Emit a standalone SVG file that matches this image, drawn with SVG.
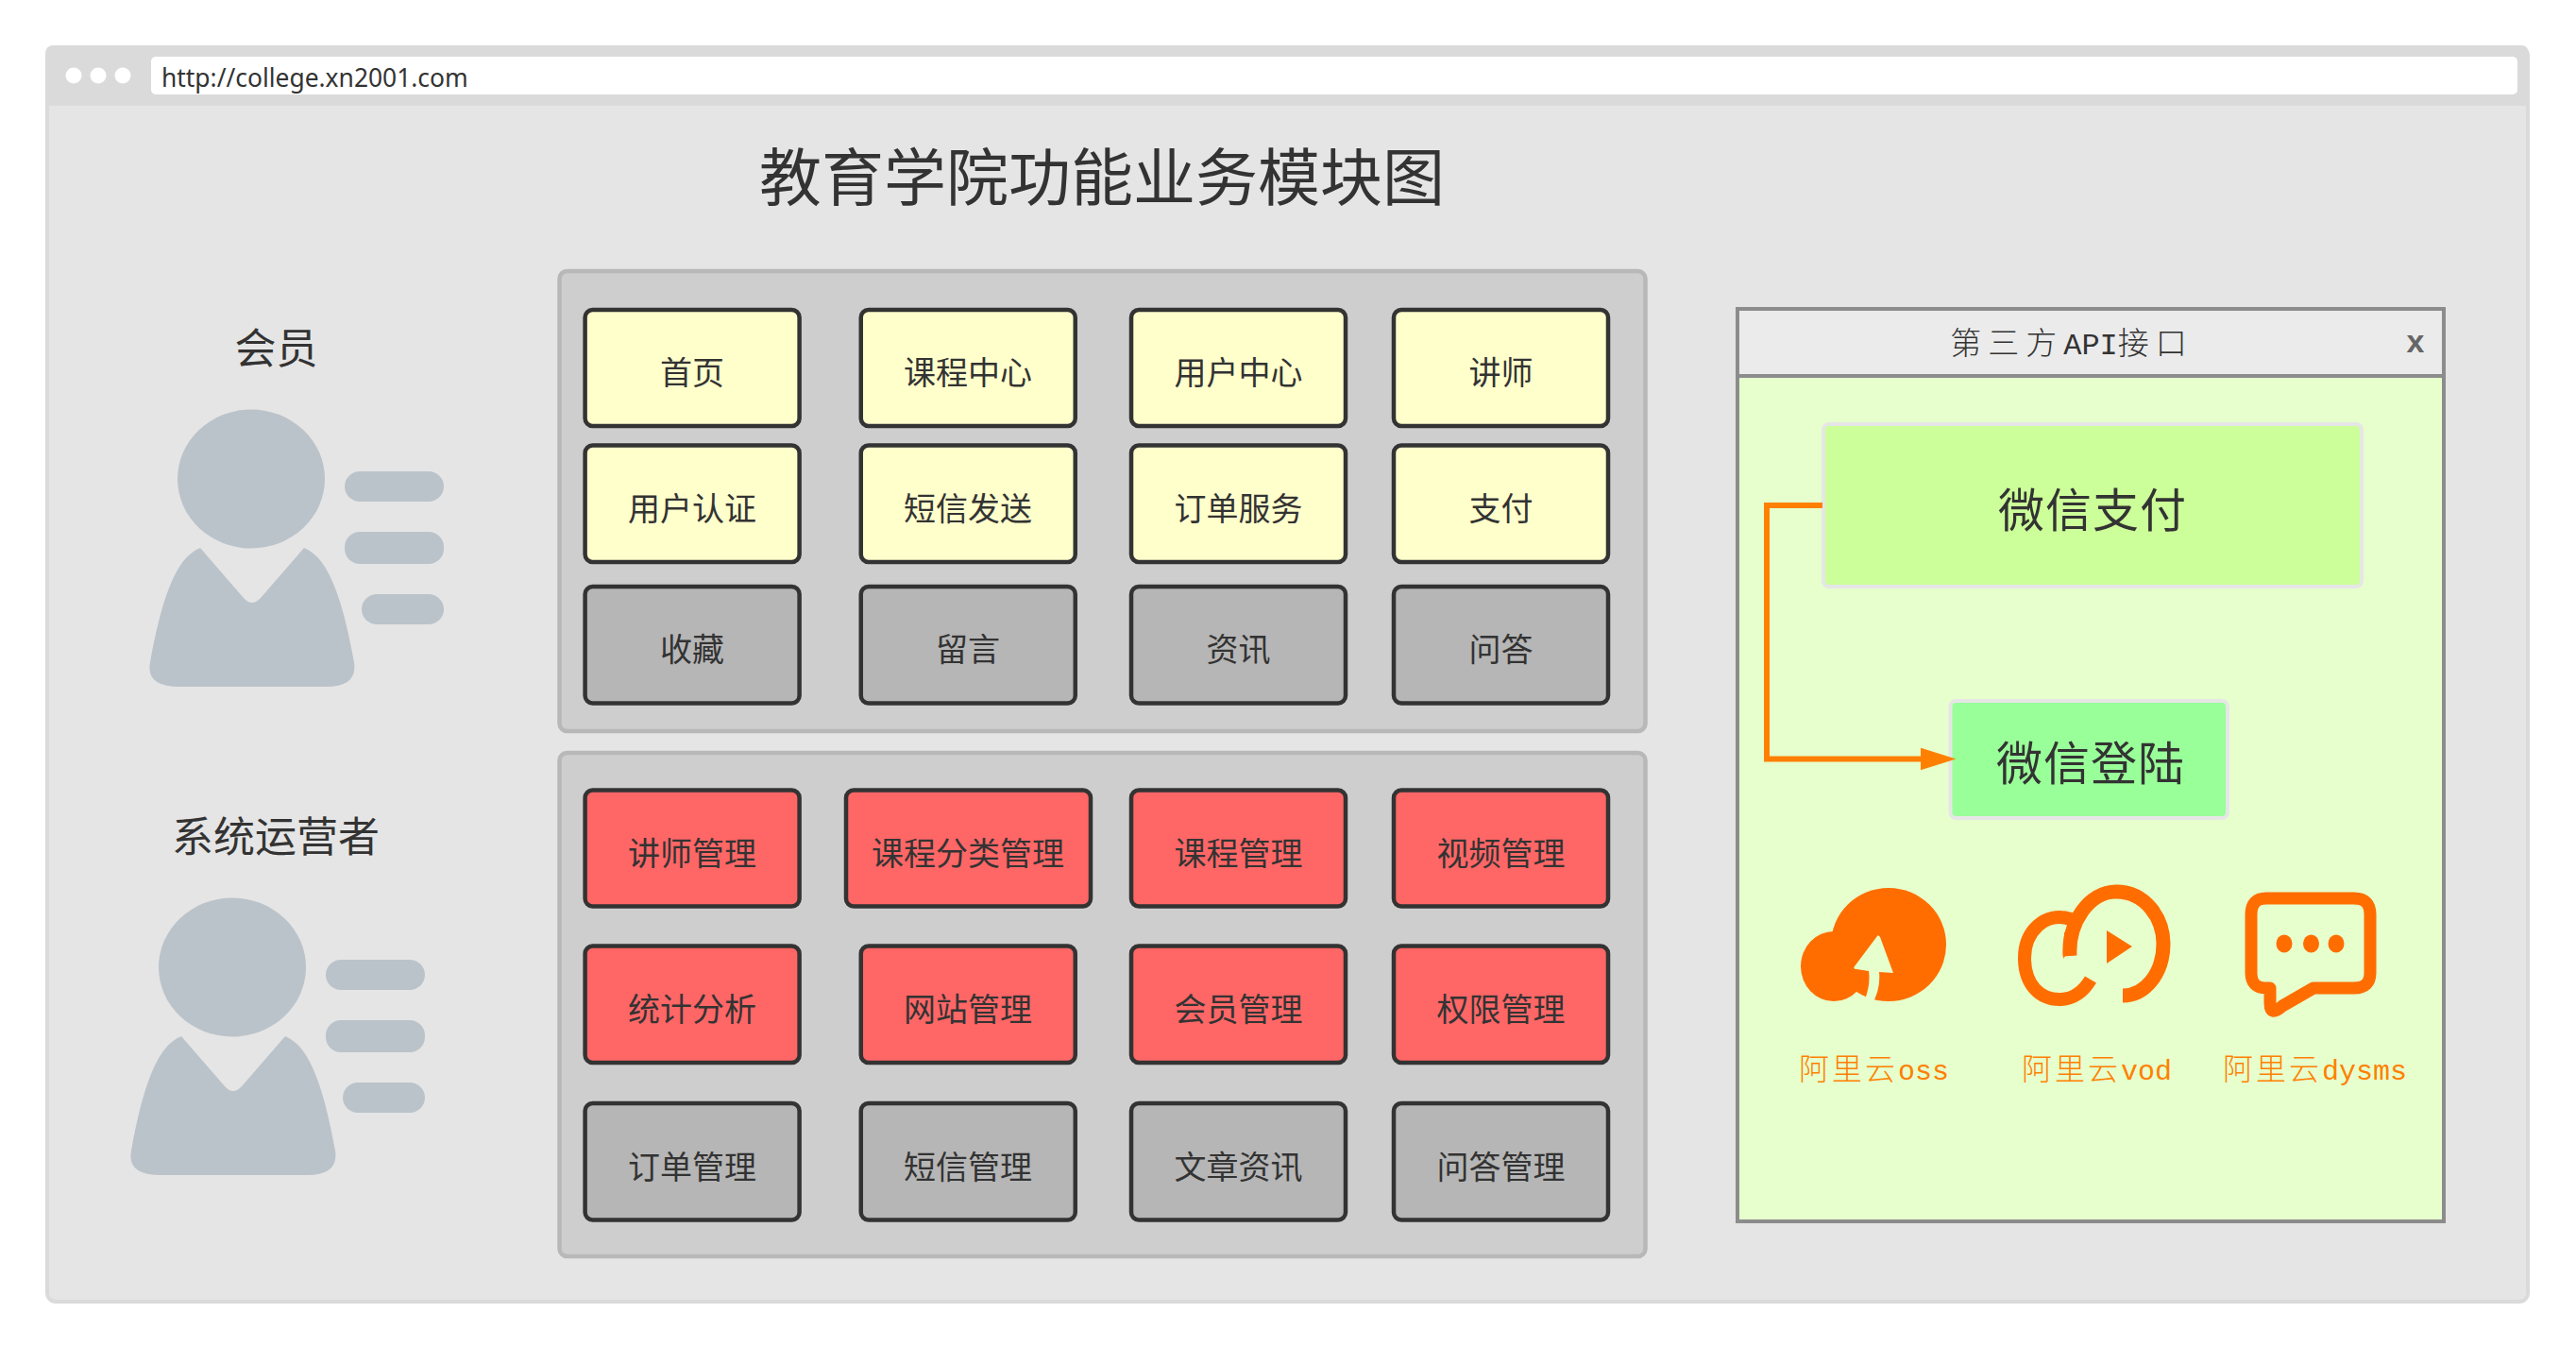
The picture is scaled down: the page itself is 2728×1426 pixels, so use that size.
<svg xmlns="http://www.w3.org/2000/svg" width="2728" height="1426" viewBox="0 0 2728 1426">
<style>
text{font-family:"Noto Sans CJK SC","Noto Sans",sans-serif;fill:#333;text-anchor:middle}
.n{stroke:#333;stroke-width:4.5}
.y{fill:#ffc}.g{fill:#b6b6b6}.r{fill:#f66}
.t{font-size:34px}
.p{fill:#cecece;stroke:#b8b8b8;stroke-width:4.5}
.pe{fill:#bbc3ca}
.ic{fill:#ff6d00}
.icl{fill:none;stroke:#ff6d00}
.k{font-family:"Liberation Mono","Noto Sans CJK SC",monospace;fill:#ff8000;font-size:30px;text-anchor:start}
.kc{font-family:"Noto Sans CJK SC",sans-serif;font-size:32px;font-weight:300;letter-spacing:3px}
</style>
<defs>
<marker id="ah" markerUnits="userSpaceOnUse" markerWidth="40" markerHeight="26" refX="6.5" refY="12" orient="auto"><path d="M0 0L38 12L0 24Z" fill="#ff8000"/></marker>
<g id="person">
<ellipse class="pe" cx="266" cy="507" rx="78" ry="73.5"/>
<path class="pe" d="M212 580L258 633Q267 643 276 633L322 580C350 591 364 641 375 701Q379 727 345 727L190 727Q154 727 159 701C170 641 184 591 212 580Z"/>
<rect class="pe" x="365" y="499" width="105" height="32" rx="16"/>
<rect class="pe" x="365" y="563" width="105" height="34" rx="16"/>
<rect class="pe" x="383" y="629" width="87" height="32" rx="16"/>
</g>
</defs>
<g id="browser">
<rect x="50" y="50" width="2627" height="1328" rx="9" fill="#e5e5e5" stroke="#dadada" stroke-width="4"/>
<path d="M48 112V57Q48 48 57 48H2669Q2678 48 2678 57V112Z" fill="#dadada"/>
<circle cx="78" cy="80" r="8.5" fill="#fff"/><circle cx="104" cy="80" r="8.5" fill="#fff"/><circle cx="130" cy="80" r="8.5" fill="#fff"/>
<rect x="160" y="60" width="2506" height="40" rx="5" fill="#fff"/>
<text x="171" y="92" style="font-family:'Noto Sans',sans-serif;text-anchor:start;font-size:26.4px">http://college.xn2001.com</text>
</g>
<text id="title" x="1167" y="212" style="font-size:66px">教育学院功能业务模块图</text>
<g id="member"><use href="#person"/><text x="292.500" y="385" style="font-size:44px">会员</text></g>
<g id="operator"><use href="#person" x="-20" y="517"/><text x="292" y="902" style="font-size:44px">系统运营者</text></g>
<rect id="panel-top" class="p" x="592.500" y="287" width="1150" height="487" rx="8"/>
<rect id="panel-bottom" class="p" x="592.500" y="797" width="1150" height="533" rx="8"/>
<g id="n1"><rect class="n y" x="619.600" y="328" width="227" height="123" rx="8"/><text class="t" x="733" y="407">首页</text></g>
<g id="n2"><rect class="n y" x="911.750" y="328" width="227" height="123" rx="8"/><text class="t" x="1025" y="407">课程中心</text></g>
<g id="n3"><rect class="n y" x="1198" y="328" width="227" height="123" rx="8"/><text class="t" x="1311.500" y="407">用户中心</text></g>
<g id="n4"><rect class="n y" x="1476" y="328" width="227" height="123" rx="8"/><text class="t" x="1589.500" y="407">讲师</text></g>
<g id="n5"><rect class="n y" x="619.600" y="471.500" width="227" height="123.500" rx="8"/><text class="t" x="733" y="550.500">用户认证</text></g>
<g id="n6"><rect class="n y" x="911.750" y="471.500" width="227" height="123.500" rx="8"/><text class="t" x="1025" y="550.500">短信发送</text></g>
<g id="n7"><rect class="n y" x="1198" y="471.500" width="227" height="123.500" rx="8"/><text class="t" x="1311.500" y="550.500">订单服务</text></g>
<g id="n8"><rect class="n y" x="1476" y="471.500" width="227" height="123.500" rx="8"/><text class="t" x="1589.500" y="550.500">支付</text></g>
<g id="n9"><rect class="n g" x="619.600" y="621" width="227" height="123.500" rx="8"/><text class="t" x="733" y="700">收藏</text></g>
<g id="n10"><rect class="n g" x="911.750" y="621" width="227" height="123.500" rx="8"/><text class="t" x="1025" y="700">留言</text></g>
<g id="n11"><rect class="n g" x="1198" y="621" width="227" height="123.500" rx="8"/><text class="t" x="1311.500" y="700">资讯</text></g>
<g id="n12"><rect class="n g" x="1476" y="621" width="227" height="123.500" rx="8"/><text class="t" x="1589.500" y="700">问答</text></g>
<g id="n13"><rect class="n r" x="619.600" y="836.500" width="227" height="123" rx="8"/><text class="t" x="733" y="915.500">讲师管理</text></g>
<g id="n14"><rect class="n r" x="896" y="836.500" width="259" height="123" rx="8"/><text class="t" x="1025" y="915.500">课程分类管理</text></g>
<g id="n15"><rect class="n r" x="1198" y="836.500" width="227" height="123" rx="8"/><text class="t" x="1311.500" y="915.500">课程管理</text></g>
<g id="n16"><rect class="n r" x="1476" y="836.500" width="227" height="123" rx="8"/><text class="t" x="1589.500" y="915.500">视频管理</text></g>
<g id="n17"><rect class="n r" x="619.600" y="1001.500" width="227" height="123.500" rx="8"/><text class="t" x="733" y="1081">统计分析</text></g>
<g id="n18"><rect class="n r" x="911.750" y="1001.500" width="227" height="123.500" rx="8"/><text class="t" x="1025" y="1081">网站管理</text></g>
<g id="n19"><rect class="n r" x="1198" y="1001.500" width="227" height="123.500" rx="8"/><text class="t" x="1311.500" y="1081">会员管理</text></g>
<g id="n20"><rect class="n r" x="1476" y="1001.500" width="227" height="123.500" rx="8"/><text class="t" x="1589.500" y="1081">权限管理</text></g>
<g id="n21"><rect class="n g" x="619.600" y="1168" width="227" height="123.500" rx="8"/><text class="t" x="733" y="1248">订单管理</text></g>
<g id="n22"><rect class="n g" x="911.750" y="1168" width="227" height="123.500" rx="8"/><text class="t" x="1025" y="1248">短信管理</text></g>
<g id="n23"><rect class="n g" x="1198" y="1168" width="227" height="123.500" rx="8"/><text class="t" x="1311.500" y="1248">文章资讯</text></g>
<g id="n24"><rect class="n g" x="1476" y="1168" width="227" height="123.500" rx="8"/><text class="t" x="1589.500" y="1248">问答管理</text></g>
<g id="api-window">
<rect x="1840" y="327" width="748" height="966" fill="#e6ffcc" stroke="#8c8c8c" stroke-width="4"/>
<rect x="1840" y="327" width="748" height="71" fill="#ebebeb" stroke="#8c8c8c" stroke-width="4"/>
<text x="2194" y="375" style="font-size:33px;font-weight:300;letter-spacing:7px">第三方<tspan style="font-family:'Liberation Mono',monospace;letter-spacing:0;font-size:32px">API</tspan>接口</text>
<text x="2558" y="373" style="font-family:'Liberation Sans',sans-serif;font-weight:bold;font-size:34px;fill:#666">x</text>
</g>
<g id="wxpay"><rect x="1931" y="449" width="570" height="172" rx="6" fill="#cf9" stroke="#e6e6e6" stroke-width="4"/><text x="2216" y="558" style="font-size:49px;letter-spacing:1px">微信支付</text></g>
<g id="wxlogin"><rect x="2065.500" y="742" width="293.500" height="124" rx="6" fill="#9f9" stroke="#e6e6e6" stroke-width="4"/><text x="2214" y="826" style="font-size:49px;letter-spacing:1px">微信登陆</text></g>
<g id="connectors"><path d="M1930 535H1871V803.500H2040" fill="none" stroke="#ff8000" stroke-width="6" marker-end="url(#ah)"/></g>
<g id="oss" transform="translate(0 2)">
<ellipse class="ic" cx="2000" cy="998" rx="61" ry="60"/>
<ellipse class="ic" cx="1942" cy="1021" rx="35" ry="37"/>
<path d="M1988 989L1964 1021Q1962 1024 1966 1024L1979 1026Q1981 1040 1975 1056L1982 1062Q1992 1045 1990 1027L2005 1028L1991 990Q1989 987 1988 989Z" fill="#e6ffcc"/>
</g>
<text class="k" x="1905" y="1143"><tspan class="kc">阿里云</tspan>oss</text>
<g id="vod" transform="translate(0 2)">
<path class="icl" stroke-width="15" d="M2192 1010C2190 975 2212 942 2241 942C2272 942 2291 970 2291 997C2291 1028 2272 1052 2248 1052"/>
<path class="icl" stroke-width="14" d="M2193 971C2165 962 2144 985 2144 1012C2144 1040 2160 1057 2183 1056C2198 1055 2208 1045 2214 1035"/>
<path class="ic" d="M2185 1013L2201 990L2186 985Z"/>
<path class="ic" d="M2231 983L2258 1000L2231 1018Z"/>
</g>
<text class="k" x="2141" y="1143"><tspan class="kc">阿里云</tspan>vod</text>
<g id="dysms" transform="translate(0 2)">
<path class="icl" stroke-width="13" stroke-linejoin="round" d="M2400 949H2493Q2510 949 2510 966V1028Q2510 1044 2493 1044H2450L2417 1063Q2404 1075 2404 1060V1044H2400Q2384 1044 2384 1028V966Q2384 949 2400 949Z"/>
<ellipse class="ic" cx="2419" cy="997" rx="8.5" ry="9.5"/><ellipse class="ic" cx="2447.5" cy="997" rx="8.5" ry="9.5"/><ellipse class="ic" cx="2474" cy="997" rx="8.5" ry="9.5"/>
</g>
<text class="k" x="2354" y="1143"><tspan class="kc">阿里云</tspan>dysms</text>
</svg>
